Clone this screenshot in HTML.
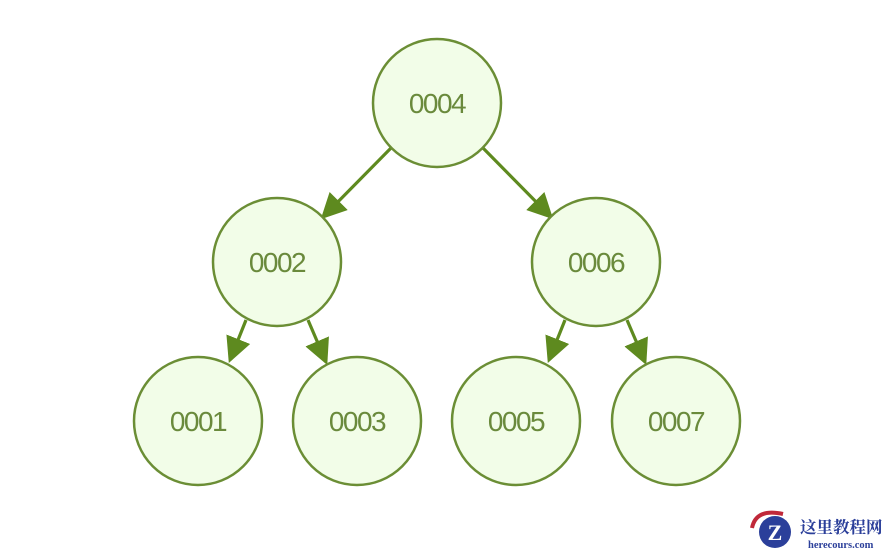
<!DOCTYPE html>
<html><head><meta charset="utf-8"><style>
html,body{margin:0;padding:0;background:#fff;width:890px;height:555px;overflow:hidden}
</style></head><body>
<svg width="890" height="555" xmlns="http://www.w3.org/2000/svg">
<defs><marker id="a" markerWidth="8" markerHeight="8" refX="7" refY="4" orient="auto" markerUnits="strokeWidth">
<path d="M0,0 L8,4 L0,8 Z" fill="#5e8a1f"/></marker></defs>
<g stroke="#5e8a1f" stroke-width="3.2" fill="none" marker-end="url(#a)">
<line x1="391" y1="148" x2="323" y2="217"/>
<line x1="483" y1="148" x2="551" y2="217"/>
<line x1="246" y1="320" x2="230" y2="360"/>
<line x1="308" y1="320" x2="326" y2="362"/>
<line x1="565" y1="320" x2="549" y2="360"/>
<line x1="627" y1="320" x2="645" y2="362"/>
</g>
<g fill="#f2fde8" stroke="#6b8e35" stroke-width="2.5">
<circle cx="437" cy="103" r="64"/>
<circle cx="277" cy="262" r="64"/>
<circle cx="596" cy="262" r="64"/>
<circle cx="198" cy="421" r="64"/>
<circle cx="357" cy="421" r="64"/>
<circle cx="516" cy="421" r="64"/>
<circle cx="676" cy="421" r="64"/>
</g>
<g font-family="Liberation Sans, sans-serif" font-size="28" fill="#6a8a3c" text-anchor="middle" letter-spacing="-1.5">
<text x="437" y="113">0004</text>
<text x="277" y="272">0002</text>
<text x="596" y="272">0006</text>
<text x="198" y="431">0001</text>
<text x="357" y="431">0003</text>
<text x="516" y="431">0005</text>
<text x="676" y="431">0007</text>
</g>
<g>
<circle cx="775" cy="532" r="16" fill="#2b3f9a"/>
<path d="M752,528 Q756,508 783,514" stroke="#c0283a" stroke-width="4" fill="none"/>
<text x="775" y="540" font-family="Liberation Serif, serif" font-size="22" font-weight="bold" fill="#fff" text-anchor="middle">Z</text>
<text x="800" y="533" font-family="Liberation Serif, 'Noto Serif CJK SC', serif" font-size="16.5" font-weight="bold" fill="#2b3f9a">这里教程网</text>
<text x="808" y="548" font-family="Liberation Serif, serif" font-size="10.5" font-weight="bold" fill="#2b3f9a">herecours.com</text>
</g>
</svg>
</body></html>
